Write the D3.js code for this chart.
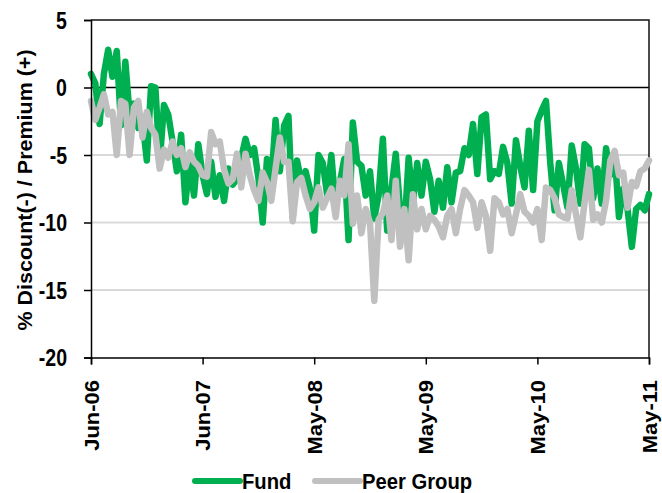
<!DOCTYPE html>
<html lang="en">
<head>
<meta charset="UTF-8">
<title>Discount / Premium</title>
<script src="https://d3js.org/d3.v7.min.js"></script>
<style>
  body { margin: 0; background: #fff; }
  text { font-family: "Liberation Sans", Arial, sans-serif; font-weight: bold; }
</style>
</head>
<body>
<script>
// fortnightly readings, Jun-06 .. May-11
const fund = [
  1.0, 0.3, -2.7, 1.0, 2.8, 0.8, 2.7, -2.8, 1.9, -2.0,
  -1.2, -3.0, -2.5, -5.4, 0.1, 0.0, -5.6, -1.3, -2.0, -4.0,
  -6.2, -3.5, -8.5, -5.5, -8.0, -4.2, -6.5, -7.9, -5.5, -8.1,
  -6.5, -8.4, -6.0, -7.2, -6.8, -5.2, -3.8, -5.0, -4.5, -6.7,
  -10.0, -5.3, -7.0, -2.4, -6.2, -2.8, -2.1, -9.6, -5.4, -7.0,
  -6.2, -7.5, -10.6, -5.0, -5.6, -7.9, -5.0, -8.9, -7.0, -5.3,
  -11.3, -2.6, -5.5, -5.8, -8.0, -6.2, -9.7, -8.0, -3.8, -10.6,
  -7.5, -4.9, -9.0, -10.6, -5.2, -8.5, -5.6, -8.0, -5.5, -6.8,
  -9.2, -6.9, -8.9, -5.9, -8.5, -6.3, -6.2, -4.5, -5.0, -2.7,
  -6.4, -2.2, -2.0, -6.8, -6.2, -6.4, -4.4, -5.6, -8.6, -3.9,
  -5.8, -7.4, -3.2, -7.6, -2.5, -1.7, -1.0, -5.6, -9.1, -5.6,
  -7.2, -8.9, -4.3, -6.0, -8.6, -4.2, -4.5, -8.2, -6.0, -8.6,
  -4.5, -6.5, -4.8, -9.6, -7.5, -9.0, -11.8, -9.0, -8.7, -9.1,
  -7.9
]
const peer = [
  -1.0, -2.4, -1.5, -0.5, -2.0, -1.8, -5.0, -1.0, -1.2, -5.0,
  -1.5, -1.0, -3.7, -1.8, -3.0, -3.5, -6.0, -4.6, -5.2, -4.0,
  -5.0, -4.5, -5.9, -4.8, -5.5, -5.8, -6.5, -6.6, -3.3, -4.2,
  -4.0, -6.1, -7.1, -6.8, -4.9, -7.4, -4.9, -6.5, -7.6, -8.4,
  -6.3, -7.0, -8.4, -6.0, -3.7, -5.5, -5.5, -9.9, -7.0, -6.7,
  -8.0, -9.0, -8.5, -7.4, -8.9, -8.2, -7.5, -9.6, -6.9, -8.0,
  -4.2, -10.1, -8.0, -10.8, -9.0, -10.0, -15.8, -9.8, -9.3, -8.0,
  -11.3, -6.9, -11.8, -9.0, -12.8, -7.9, -10.5, -9.0, -10.5, -9.5,
  -9.8, -10.3, -11.1, -9.5, -9.0, -10.8, -9.0, -7.6, -8.0, -8.5,
  -10.4, -8.5, -9.5, -12.1, -8.2, -8.5, -9.4, -9.0, -10.8, -9.4,
  -7.9, -9.2, -9.5, -10.0, -9.0, -11.3, -7.4, -7.6, -8.2, -9.4,
  -9.6, -9.7, -7.6, -9.4, -11.1, -8.5, -6.1, -9.8, -9.4, -10.0,
  -8.4, -5.4, -4.7, -6.5, -6.3, -8.9, -7.0, -7.3, -6.2, -6.0,
  -5.4
]
const tickIdx = [0, 26, 52, 78, 104, 130]
const tickLabels = ["Jun-06", "Jun-07", "May-08", "May-09", "May-10", "May-11"]
const yTicks = [5, 0, -5, -10, -15, -20]
const seriesNames = ["Fund", "Peer Group"]
const colors = ["#00b050", "#c0c0c0"]

const width = 662, height = 493
const mLeft = 91, mRight = 649, mTop = 20, mBottom = 357.5

const svg = d3.select("body").append("svg")
    .attr("width", width).attr("height", height)

const x = d3.scaleLinear().domain([0, fund.length - 1]).range([mLeft, mRight])
const y = d3.scaleLinear().domain([-20, 5]).range([mBottom, mTop])

// grid
svg.append("g").selectAll("line")
    .data([-5, -10, -15])
    .join("line")
    .attr("x1", mLeft).attr("x2", mRight)
    .attr("y1", d => y(d)).attr("y2", d => y(d))
    .attr("stroke", "#d9d9d9").attr("stroke-width", 2)

// zero line + frame
svg.append("line").attr("x1", mLeft).attr("x2", mRight)
    .attr("y1", y(0)).attr("y2", y(0))
    .attr("stroke", "#000").attr("stroke-width", 1.5)
svg.append("path")
    .attr("d", `M${mLeft},${mTop}H${mRight}V${mBottom}`)
    .attr("fill", "none").attr("stroke", "#111").attr("stroke-width", 1.5)

const line = d3.line().x((d, i) => x(i)).y(d => y(d))
;[fund, peer].forEach((s, k) => {
    svg.append("path").datum(s)
        .attr("d", line)
        .attr("fill", "none")
        .attr("stroke", colors[k])
        .attr("stroke-width", 6.5)
        .attr("stroke-linejoin", "round")
        .attr("stroke-linecap", "round")
})

// y axis
const yAxis = svg.append("g").attr("transform", `translate(${mLeft},0)`)
    .call(d3.axisLeft(y).tickValues(yTicks).tickSize(7).tickFormat(d => d))
yAxis.select(".domain").attr("stroke", "#000").attr("stroke-width", 1.5)
yAxis.selectAll(".tick line").attr("stroke", "#000").attr("stroke-width", 1.5)
yAxis.selectAll(".tick text").remove()
yTicks.forEach(v => {
    svg.append("text")
        .attr("transform", `translate(67,${y(v) + 8.5}) scale(0.85,1)`)
        .attr("text-anchor", "end")
        .attr("font-size", 23)
        .text(v)
})

// x axis
const xAxis = svg.append("g").attr("transform", `translate(0,${mBottom})`)
    .call(d3.axisBottom(x).tickValues(tickIdx).tickSize(7).tickFormat(""))
xAxis.select(".domain").attr("stroke", "#000").attr("stroke-width", 1.5)
xAxis.selectAll(".tick line").attr("stroke", "#000").attr("stroke-width", 1.5)
tickIdx.forEach((t, i) => {
    svg.append("text")
        .attr("transform", `translate(${x(t) + 7.5},380) scale(0.9,1) rotate(-90)`)
        .attr("text-anchor", "end")
        .attr("font-size", 22)
        .text(tickLabels[i])
})

// y title
svg.append("text")
    .attr("transform", `translate(32,190) scale(0.9,1) rotate(-90)`)
    .attr("text-anchor", "middle")
    .attr("font-size", 21.5)
    .text("% Discount(-) / Premium (+)")

// legend
const legX = [195, 315]
seriesNames.forEach((n, k) => {
    svg.append("line")
        .attr("x1", legX[k]).attr("x2", legX[k] + 45)
        .attr("y1", 481).attr("y2", 481)
        .attr("stroke", colors[k]).attr("stroke-width", 6)
        .attr("stroke-linecap", "round")
    svg.append("text")
        .attr("transform", `translate(${legX[k] + 47},488.5) scale(0.9,1)`)
        .attr("font-size", 22.5)
        .text(n)
})
</script>
</body>
</html>
